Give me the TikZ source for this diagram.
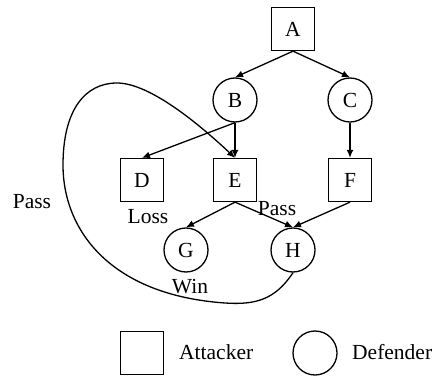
\documentclass[tikz,border=0pt]{standalone}
\usepackage{fontspec}
\setmainfont{Liberation Serif}
\usetikzlibrary{arrows.meta}
\begin{document}
\begin{tikzpicture}[x=1pt,y=-1pt,
  every node/.style={font=\fontsize{21.5}{24}\selectfont},
  attacker/.style={draw, line width=1.3pt, rectangle, minimum size=43pt, inner sep=0pt},
  defender/.style={draw, line width=1.3pt, circle, minimum size=44pt, inner sep=0pt},
  edge/.style={line width=1.3pt, -{Latex[length=8pt,width=7pt]}},
  lbl/.style={inner sep=0pt}]
\useasboundingbox (0,0) rectangle (436,377);
% game tree
\node[attacker] (A) at (293,29) {A};
\node[defender] (B) at (235,100) {B};
\node[defender] (C) at (350,100) {C};
\node[attacker] (D) at (142,180) {D};
\node[attacker] (E) at (235,180) {E};
\node[attacker] (F) at (350,180) {F};
\node[defender] (G) at (186,250) {G};
\node[defender] (H) at (293,250) {H};
\draw[edge] (A.south) -- (B.north);
\draw[edge] (A.south) -- (C.north);
\draw[edge] (B.south) -- (D.north);
\draw[edge] (B.south) -- (E.north);
\draw[edge] (C.south) -- (F.north);
\draw[edge] (E.south) -- (G.north);
\draw[edge] (E.south) -- (H.north);
\draw[edge] (F.south) -- (H.north);
% pass loop from H back to E
\draw[edge] (H.south) .. controls (275,300) and (255,305) .. (225,303)
  .. controls (110,295) and (63,230) .. (63,165)
  .. controls (63,110) and (85,83) .. (117,83)
  .. controls (150,83) and (200,125) .. (E.north);
% outcome labels
\node[lbl] (passL) at (32,202) {Pass};
\node[lbl] (loss) at (148,217) {Loss};
\node[lbl] (win) at (190,287) {Win};
\node[lbl] (passR) at (277,209) {Pass};
% legend
\node[attacker] (legA) at (142,353) {};
\node[lbl, anchor=west] (legAt) at (179,352) {Attacker};
\node[defender] (legD) at (315,353) {};
\node[lbl, anchor=west] (legDt) at (352,352) {Defender};
\end{tikzpicture}
\end{document}
